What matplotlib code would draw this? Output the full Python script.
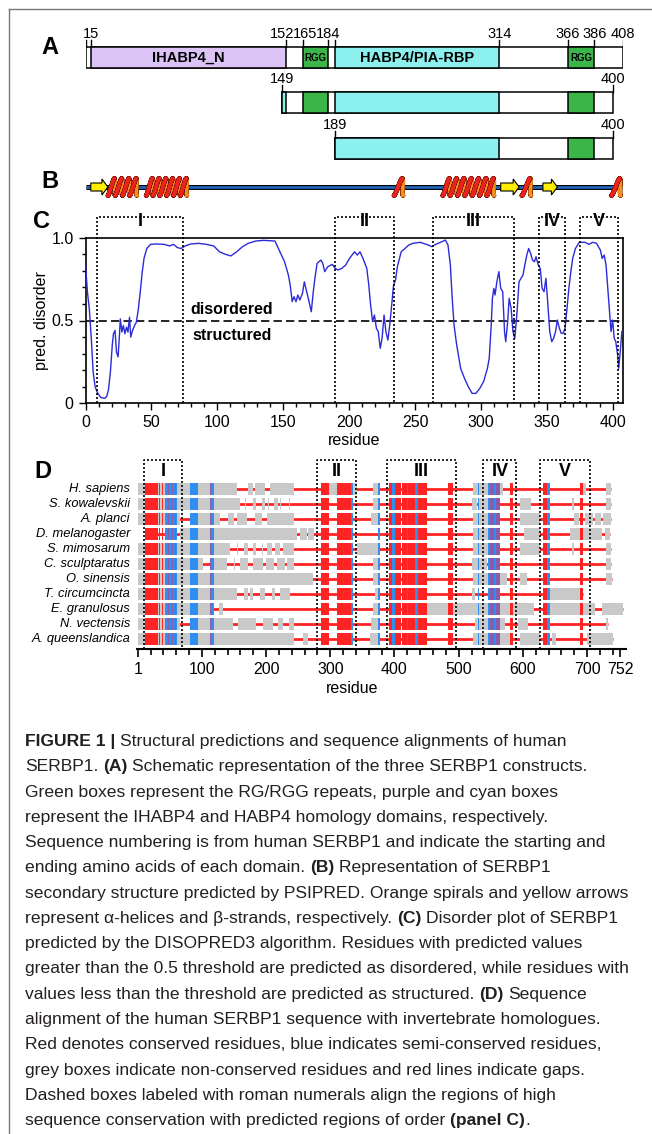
import numpy as np
import matplotlib
matplotlib.use("Agg")
import matplotlib.pyplot as plt
import matplotlib.patheffects as pe
from matplotlib.patches import Rectangle, FancyArrow
from matplotlib.collections import LineCollection
from matplotlib.lines import Line2D
from matplotlib.font_manager import FontProperties

plt.rcParams['font.family'] = ['Liberation Sans', 'DejaVu Sans']

#===================== data =====================#
# panel A : constructs and domains (residue numbers)
constructs = [(1, 408), (149, 400), (189, 400)]
construct_labels = [[15, 152, 165, 184, 314, 366, 386, 408], [149, 400], [189, 400]]
construct_ticks = [[1, 15, 152, 165, 184, 189, 314, 366, 386, 408], [149, 400], [189, 400]]
domain_names = ["IHABP4_N", "RGG", "HABP4/PIA-RBP", "RGG"]
domain_start = [15, 165, 189, 366]
domain_end = [152, 184, 314, 386]

# panel B : PSIPRED secondary structure
helix_start = [17, 46, 234, 271, 331, 399]
helix_end = [39, 77, 241, 310, 338, 406]
strand_start = [4, 315, 347]
strand_end = [17, 329, 358]
seq_len = 406

# panel C : DISOPRED3 disorder profile
disorder_res = [0, 1.5, 2.9, 4.4, 5.8, 7.3, 8.7, 10.2, 11.6, 14.5, 16, 17.4, 18.9, 20.3, 21.2, 22.4,
                23.5, 24.7, 25.6, 26.4, 27.6, 28.7, 29.9, 31.1, 32.2, 33.4, 34.3, 35.7, 37.2, 38.6,
                40.1, 41.5, 43, 44.4, 46.5, 49.4, 53.7, 59.5, 63.9, 66.8, 69.7, 72.6, 75.5, 79.8,
                85.7, 91.5, 97.3, 101.6, 106, 110.3, 114.7, 119, 123.4, 129.2, 135, 143.7, 148.1,
                151, 153.9, 155.3, 156.8, 158.2, 159.7, 161.1, 162.6, 164.6, 166, 167.5, 169.3,
                171.3, 172.8, 174.2, 175.7, 177.1, 178.6, 180, 181.5, 183.8, 187.3, 189.3, 191.6,
                194.5, 197.4, 200.3, 204.1, 206.2, 208.2, 210.5, 213.4, 214.9, 216.3, 217.8, 219.2,
                220.7, 222.1, 223.6, 225, 226.5, 227.9, 229.4, 230.8, 232.3, 233.7, 235.2, 236.6,
                239.5, 242.4, 245.3, 248.3, 254.1, 259.9, 262.8, 265.7, 271.5, 273, 275, 276.8,
                278.2, 279.6, 281.6, 284.6, 287.5, 290.4, 293.3, 296.2, 299.1, 302, 304.9, 306.3,
                307.8, 308.7, 309.8, 310.7, 312.1, 313.6, 315, 316.5, 317.9, 318.8, 320.3, 321.4,
                322.9, 324.3, 325.7, 327.2, 328.9, 330.4, 331.9, 333.3, 334.8, 336.2, 337.7, 339.1,
                340.6, 341.8, 343.5, 345, 346.4, 347.9, 349.3, 350.8, 352.2, 353.7, 355.1, 356.6,
                358, 359.5, 360.9, 362.4, 363.8, 365.3, 366.7, 368.2, 369.6, 371.7, 374.6, 379,
                381.9, 384.8, 387.7, 390.6, 392, 393.5, 394.9, 396.4, 397.9, 398.7, 399.9, 401.1,
                402.3, 403.7, 404.5, 405.7, 406.9]
disorder_val = [0.84, 0.67, 0.57, 0.39, 0.19, 0.10, 0.07, 0.05, 0.035, 0.03, 0.04, 0.08, 0.19, 0.35,
                0.42, 0.44, 0.31, 0.28, 0.39, 0.51, 0.43, 0.47, 0.42, 0.46, 0.43, 0.52, 0.40, 0.44,
                0.47, 0.49, 0.57, 0.67, 0.79, 0.875, 0.935, 0.96, 0.962, 0.96, 0.95, 0.96, 0.94,
                0.935, 0.95, 0.962, 0.966, 0.96, 0.95, 0.915, 0.90, 0.89, 0.915, 0.945, 0.966,
                0.98, 0.984, 0.98, 0.905, 0.855, 0.775, 0.714, 0.614, 0.644, 0.614, 0.654, 0.624,
                0.664, 0.734, 0.684, 0.624, 0.553, 0.674, 0.765, 0.845, 0.855, 0.865, 0.845, 0.795,
                0.825, 0.839, 0.815, 0.805, 0.815, 0.835, 0.875, 0.915, 0.895, 0.915, 0.875, 0.815,
                0.714, 0.594, 0.493, 0.533, 0.453, 0.433, 0.332, 0.392, 0.533, 0.433, 0.382, 0.473,
                0.594, 0.714, 0.744, 0.825, 0.915, 0.935, 0.956, 0.966, 0.972, 0.956, 0.946, 0.96,
                0.98, 0.986, 0.956, 0.835, 0.634, 0.473, 0.352, 0.211, 0.151, 0.10, 0.06, 0.06,
                0.09, 0.131, 0.211, 0.272, 0.473, 0.634, 0.694, 0.654, 0.734, 0.795, 0.694, 0.674,
                0.433, 0.372, 0.493, 0.634, 0.573, 0.433, 0.392, 0.533, 0.734, 0.755, 0.775, 0.835,
                0.895, 0.935, 0.905, 0.865, 0.855, 0.885, 0.835, 0.815, 0.694, 0.674, 0.755, 0.594,
                0.433, 0.372, 0.392, 0.433, 0.503, 0.453, 0.423, 0.423, 0.453, 0.573, 0.694, 0.795,
                0.875, 0.935, 0.972, 0.972, 0.96, 0.972, 0.966, 0.925, 0.875, 0.895, 0.835, 0.674,
                0.513, 0.433, 0.503, 0.392, 0.372, 0.292, 0.211, 0.312, 0.433]
threshold = 0.5
boxes_C = [(9, 74), (189, 234), (264, 325), (344, 364), (375, 404)]
numerals = ["I", "II", "III", "IV", "V"]

# panel D : alignment (alignment column numbers)
species = ["H. sapiens", "S. kowalevskii", "A. planci", "D. melanogaster", "S. mimosarum",
           "C. sculptaratus", "O. sinensis", "T. circumcincta", "E. granulosus", "N. vectensis",
           "A. queenslandica"]
sp_start = [0, 0, 0, 12, 0, 0, 0, 0, 0, 0, 0]
sp_end = [737, 737, 738, 736, 737, 737, 739, 693, 756, 733, 740]
grey_hs = [(0, 81), (94, 154), (172, 180), (183, 198), (206, 243), (298, 310), (333, 341), (367, 378),
           (523, 546), (564, 569), (693, 699), (729, 737)]
grey_sk = [(0, 81), (94, 159), (167, 169), (180, 185), (193, 198), (203, 205), (213, 218), (222, 224),
           (235, 238), (366, 375), (520, 528), (532, 546), (595, 613), (676, 679), (729, 737)]
grey_ap = [(0, 66), (94, 129), (141, 150), (154, 170), (183, 193), (201, 243), (364, 378), (523, 546),
           (595, 627), (679, 687), (697, 710), (712, 721), (725, 738)]
grey_dm = [(66, 81), (94, 248), (253, 263), (266, 274), (523, 546), (601, 627), (674, 723), (728, 736)]
grey_sm = [(0, 81), (94, 144), (154, 156), (165, 172), (180, 185), (193, 195), (201, 209), (214, 222),
           (227, 243), (341, 378), (523, 546), (595, 627), (676, 679), (729, 737)]
grey_cs = [(0, 81), (94, 102), (112, 139), (150, 152), (159, 172), (180, 196), (200, 213), (217, 230),
           (233, 243), (367, 375), (520, 544), (729, 737)]
grey_os = [(0, 273), (367, 375), (523, 546), (564, 575), (595, 606), (729, 739)]
grey_tc = [(0, 81), (94, 154), (165, 172), (175, 180), (191, 198), (209, 214), (222, 237), (370, 375),
           (520, 526), (642, 693)]
grey_eg = [(0, 118), (126, 133), (367, 375), (450, 546), (564, 618), (642, 712), (724, 756)]
grey_nv = [(0, 66), (94, 149), (157, 185), (196, 211), (219, 227), (235, 243), (364, 375), (525, 546),
           (564, 572), (593, 608), (729, 733)]
grey_aq = [(0, 243), (258, 265), (362, 375), (523, 546), (564, 580), (595, 627), (645, 651), (700, 740)]
grey_segments = [grey_hs, grey_sk, grey_ap, grey_dm, grey_sm, grey_cs, grey_os, grey_tc, grey_eg,
                 grey_nv, grey_aq]
conserved_cols = [(12, 22), (23, 31), (33, 34.5), (38, 39.5), (285, 298), (310, 333), (392, 396),
                  (401, 410), (412, 432), (437, 450), (484, 491), (580, 584), (632, 638), (689, 693)]
semi_cols = [(43, 62), (81, 94), (114, 119), (333, 335), (375, 378), (396, 401), (432, 437),
             (530, 531.5), (546, 549), (555, 558), (638, 642)]
mixed_cols = [(47, 49), (53, 55), (58, 60), (112, 113.5), (420, 421.5), (549, 555), (558, 564)]
boxes_D = [(10, 69), (280, 340), (388, 496), (538, 590), (626, 705)]
d_ticks = [1, 100, 200, 300, 400, 500, 600, 700, 752]

caption = [
    [("FIGURE 1 |", True), (" Structural predictions and sequence alignments of human", False)],
    [("SERBP1. ", False), ("(A)", True), (" Schematic representation of the three SERBP1 constructs.", False)],
    [("Green boxes represent the RG/RGG repeats, purple and cyan boxes", False)],
    [("represent the IHABP4 and HABP4 homology domains, respectively.", False)],
    [("Sequence numbering is from human SERBP1 and indicate the starting and", False)],
    [("ending amino acids of each domain. ", False), ("(B)", True), (" Representation of SERBP1", False)],
    [("secondary structure predicted by PSIPRED. Orange spirals and yellow arrows", False)],
    [("represent \u03b1-helices and \u03b2-strands, respectively. ", False), ("(C)", True),
     (" Disorder plot of SERBP1", False)],
    [("predicted by the DISOPRED3 algorithm. Residues with predicted values", False)],
    [("greater than the 0.5 threshold are predicted as disordered, while residues with", False)],
    [("values less than the threshold are predicted as structured. ", False), ("(D)", True),
     (" Sequence", False)],
    [("alignment of the human SERBP1 sequence with invertebrate homologues.", False)],
    [("Red denotes conserved residues, blue indicates semi-conserved residues,", False)],
    [("grey boxes indicate non-conserved residues and red lines indicate gaps.", False)],
    [("Dashed boxes labeled with roman numerals align the regions of high", False)],
    [("sequence conservation with predicted regions of order ", False), ("(panel C)", True), (".", False)],
]

#===================== figure =====================#
W, H = 652, 1134
fig = plt.figure(figsize=(W / 100, H / 100), dpi=100)


def rect(l, t, r, b):
    return [l / W, 1 - b / H, (r - l) / W, (b - t) / H]


# page frame (top and left rule)
fig.add_artist(Line2D([9 / W, 1], [1 - 8.5 / H, 1 - 8.5 / H], color='#777777', lw=1))
fig.add_artist(Line2D([9 / W, 9 / W], [0, 1 - 8.5 / H], color='#777777', lw=1))

for lab, x, y in [("A", 41, 47), ("B", 41, 182), ("C", 33, 221), ("D", 34, 471)]:
    fig.text(x / W, 1 - y / H, lab, fontsize=17, fontweight='bold', va='center', ha='left')

PURPLE = '#dcc3f6'
CYAN = '#8cf0ee'
GREEN = '#3bb54a'
dom_colors = [PURPLE, GREEN, CYAN, GREEN]

#--------------------- A ---------------------#
# schematic axis: the short N-terminal stretch before residue 15 is drawn compressed
knot_res = [0, 15, 152, 408]
knot_pos = [0, 4.3, 152, 408]
axA = fig.add_axes(rect(85.5, 20, 623.3, 172))
axA.set_xscale('function', functions=(lambda v: np.interp(v, knot_res, knot_pos),
                                      lambda v: np.interp(v, knot_pos, knot_res)))
axA.set_xlim(0, 408)
axA.set_ylim(172, 20)
axA.axis('off')
bar_top = [47, 92, 138]
bar_h = 20.5
label_shift = {152: -4, 165: 2, 184: 0}
for k, (s, e) in enumerate(constructs):
    top = bar_top[k]
    x0 = 0 if k == 0 else s
    axA.add_patch(Rectangle((x0, top), e - x0, bar_h, fc='white', ec='black', lw=1.1))
    for name, ds, de, col in zip(domain_names, domain_start, domain_end, dom_colors):
        a, b = max(ds, s), min(de, e)
        if b > a:
            fc = CYAN if (k > 0 and col == PURPLE) else col
            axA.add_patch(Rectangle((a, top), b - a, bar_h, fc=fc, ec='black', lw=1.1))
            if k == 0:
                fs = 7 if name == "RGG" else 10.5
                axA.text((a + b) / 2, top + bar_h / 2 + 0.5, name, ha='center', va='center',
                         fontsize=fs, fontweight='bold')
    for t in construct_ticks[k]:
        axA.plot([x0 if t == s else t] * 2, [top - 7, top], color='black', lw=1.0)
    for lab in construct_labels[k]:
        axA.annotate(str(lab), (lab, top - 9), xytext=(label_shift.get(lab, 0) * 0.72, 0),
                     textcoords='offset points', ha='center', va='baseline', fontsize=10.5)

#--------------------- B ---------------------#
PX = 537.8 / 408
axB = fig.add_axes(rect(85.5, 168, 623.3, 206))
axB.set_xlim(0, 408)
axB.set_ylim(206, 168)
axB.axis('off')
yB = 187
axB.plot([0, seq_len], [yB, yB], color='black', lw=3.6, solid_capstyle='butt', zorder=1)
axB.plot([0, seq_len], [yB, yB], color='#2266b8', lw=2.0, solid_capstyle='butt', zorder=2)
ry = 8.5
for r0, r1 in zip(helix_start, helix_end):
    n = max(1, int(round((r1 - r0) * PX / 7.0)))
    pitch = (r1 - r0) / n
    c = 0.5 * pitch / np.pi
    rx = 0.2 * pitch
    t = np.linspace(0, 2 * np.pi * n, 80 * n)
    x = r0 + c * t + rx * (1 - np.cos(t))
    y = yB + ry * np.cos(t)
    pts = np.column_stack([x, y])
    segs = np.stack([pts[:-1], pts[1:]], axis=1)
    front = np.sin(t[:-1] + 1e-9) >= 0
    back_lc = LineCollection(segs[~front], colors='#f5901e', linewidths=2.4, capstyle='round',
                             zorder=3)
    back_lc.set_path_effects([pe.Stroke(linewidth=3.2, foreground='#7a2a00'), pe.Normal()])
    axB.add_collection(back_lc)
    front_lc = LineCollection(segs[front], colors='#e8241c', linewidths=2.6, capstyle='round',
                              zorder=4)
    front_lc.set_path_effects([pe.Stroke(linewidth=3.4, foreground='#6a0a00'), pe.Normal()])
    axB.add_collection(front_lc)
for r0, r1 in zip(strand_start, strand_end):
    hl = 6.0 / PX
    axB.add_patch(FancyArrow(r0, yB, r1 - r0 - hl, 0, width=8, head_width=16, head_length=hl,
                             length_includes_head=False, fc='#ffee00', ec='black', lw=0.8, zorder=5))

#--------------------- C ---------------------#
axC = fig.add_axes(rect(85.5, 237.7, 623.3, 403.3))
axC.set_xlim(0, 408)
axC.set_ylim(0, 1)
axC.plot(disorder_res, disorder_val, color='#2b2bd9', lw=1.0, zorder=3)
axC.axhline(threshold, color='black', lw=1.2, ls=(0, (5, 2.5)), zorder=2)
axC.text(111, 0.565, "disordered", ha='center', va='center', fontsize=11.5, fontweight='bold')
axC.text(111, 0.41, "structured", ha='center', va='center', fontsize=11.5, fontweight='bold')
box_top_C = 1 + 21 / 165.6
for (a, b), num in zip(boxes_C, numerals):
    axC.plot([a, a, b, b], [0, box_top_C, box_top_C, 0], color='black', lw=1.2,
             ls=(0, (1.2, 1.2)), clip_on=False, zorder=4)
    axC.text((a + b) / 2, 1 + 16 / 165.6, num, ha='center', va='center', fontsize=13,
             fontweight='bold')
axC.set_xticks(np.arange(0, 401, 50))
axC.set_xticks(np.arange(0, 409, 10), minor=True)
axC.set_yticks([0, 0.5, 1.0])
axC.set_yticklabels(["0", "0.5", "1.0"])
axC.set_yticks(np.arange(0, 1.01, 0.1), minor=True)
axC.tick_params(which='both', direction='out', labelsize=11.5, width=1.0)
axC.tick_params(which='major', length=5)
axC.tick_params(which='minor', length=3)
for sp in axC.spines.values():
    sp.set_linewidth(1.2)
axC.set_ylabel("pred. disorder", fontsize=11.5)
axC.yaxis.set_label_coords(-0.068, 0.5)
axC.set_xlabel("residue", fontsize=11.5)
axC.xaxis.set_label_coords(0.5, -0.18)

#--------------------- D ---------------------#
RED = '#ff2323'
BLUE = '#2f8ff0'
MIX = '#8b5aa8'
GREY = '#c9c9c9'
axD = fig.add_axes(rect(136.7, 455, 625.6, 649))
axD.set_xlim(-1.5, 760)
axD.set_ylim(649, 455)
row_h = 12.5
for i, name in enumerate(species):
    yc = 489 + 15 * i
    axD.plot([sp_start[i], sp_end[i]], [yc, yc], color=RED, lw=2.0, solid_capstyle='butt', zorder=1)
    segs = [(a, b - a) for a, b in grey_segments[i]]
    axD.broken_barh(segs, (yc - row_h / 2, row_h), facecolors=GREY, zorder=2)
    for cols, colr in [(conserved_cols, RED), (semi_cols, BLUE), (mixed_cols, MIX)]:
        axD.broken_barh([(a, b - a) for a, b in cols], (yc - row_h / 2, row_h),
                        facecolors=colr, zorder=3)
    axD.text(-12, yc, name, ha='right', va='center', fontsize=9.3, style='italic', clip_on=False)
for (a, b), num in zip(boxes_D, numerals):
    axD.plot([a, a, b, b], [649, 460, 460, 649], color='black', lw=1.2, ls=(0, (1.2, 1.2)),
             clip_on=False, zorder=5)
    axD.text((a + b) / 2, 471.5, num, ha='center', va='center', fontsize=13, fontweight='bold')
for side in ['left', 'right', 'top']:
    axD.spines[side].set_visible(False)
axD.spines['bottom'].set_linewidth(1.5)
axD.set_yticks([])
axD.set_xticks(d_ticks)
axD.set_xticks([v for v in range(20, 752, 20) if v % 100], minor=True)
axD.tick_params(which='both', direction='out', labelsize=11.5, width=1.2)
axD.tick_params(which='major', length=6)
axD.tick_params(which='minor', length=4)
axD.set_xlabel("residue", fontsize=11.5)
axD.xaxis.set_label_coords((352 - 136.7) / 488.9, -0.165)

#--------------------- caption ---------------------#
renderer = fig.canvas.get_renderer()
cap_fs = 12.6
cap_left = 25
cap_maxw = 603


def text_w(s, fs, bold):
    fp = FontProperties(family=['Liberation Sans', 'DejaVu Sans'], size=fs,
                        weight='bold' if bold else 'normal')
    return renderer.get_text_width_height_descent(s, fp, ismath=False)[0]


def run_layout(runs, fs):
    # x offset of each run (runs are drawn whole, spaces at run edges added by hand)
    sp = text_w("x x", fs, False) - text_w("xx", fs, False)
    xs, x = [], 0.0
    for txt, bold in runs:
        if txt.startswith(" "):
            x += sp
        xs.append(x)
        x += text_w(txt.strip(), fs, bold)
        if txt.endswith(" "):
            x += sp
    return xs, x


for i, runs in enumerate(caption):
    fs = cap_fs
    xs, total = run_layout(runs, fs)
    if total > cap_maxw:
        fs = fs * cap_maxw / total
        xs, total = run_layout(runs, fs)
    yb = 746 + 25.27 * i
    for (txt, bold), xo in zip(runs, xs):
        fig.text((cap_left + xo) / W, 1 - yb / H, txt.strip(), fontsize=fs,
                 fontweight='bold' if bold else 'normal', ha='left', va='baseline', color='#231f20')

fig.savefig("out.png", dpi=100)
